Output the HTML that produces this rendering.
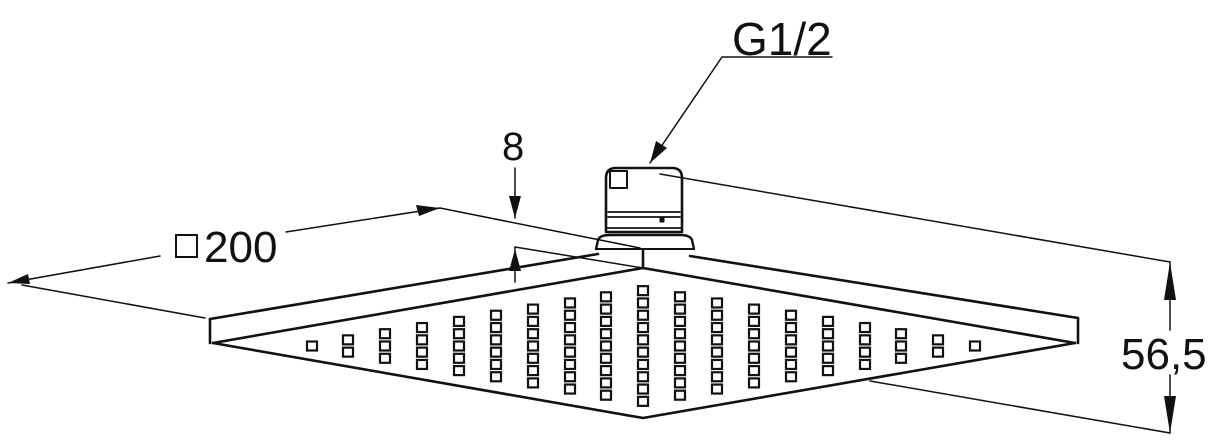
<!DOCTYPE html>
<html><head><meta charset="utf-8"><style>
html,body{margin:0;padding:0;background:#fff;width:1220px;height:444px;overflow:hidden}
svg{display:block}
text{font-family:"Liberation Sans",sans-serif;fill:#111}
</style></head><body>
<svg width="1220" height="444" viewBox="0 0 1220 444" xmlns="http://www.w3.org/2000/svg">
<g stroke="#111" fill="none" stroke-linejoin="round" stroke-linecap="round">
<g stroke-width="2.6">
<polyline points="210,319 598,254"/>
<polyline points="690,256 1078,318"/>
<polyline points="210,319 210,343"/>
<polyline points="1078,318 1078,343"/>
<polyline points="213,343 643,268 1075,343"/>
<polyline points="213,343 643,418 1075,343"/>
<line x1="643" y1="249" x2="643" y2="268"/>
</g>
<path d="M596,249 L598,240 Q600,235 610,235 L680,235 Q690,235 692,240 L694,249" stroke-width="2.4" fill="#fff"/>
<line x1="596" y1="249" x2="694" y2="249" stroke-width="2"/>
<path d="M606,232 L606,178 Q606,168 616,168 L672,168 Q682,168 682,178 L682,232 Z" stroke-width="2.6" fill="#fff"/>
<rect x="610" y="171" width="17" height="17" stroke-width="2"/>
<line x1="608" y1="212" x2="680" y2="212" stroke-width="1.8"/>
<line x1="608" y1="217" x2="680" y2="217" stroke-width="1.8"/>
<line x1="606" y1="228" x2="682" y2="228" stroke-width="1.8"/>
<rect x="660" y="217" width="4" height="5" fill="#111" stroke-width="1"/>
<g stroke-width="1.5">
<line x1="440" y1="208" x2="640" y2="248"/>
<line x1="515" y1="247" x2="643" y2="268"/>
<line x1="8" y1="283" x2="160" y2="256"/>
<line x1="286" y1="232" x2="440" y2="208"/>
<line x1="22" y1="285" x2="205" y2="318"/>
<line x1="515" y1="168" x2="515" y2="218"/>
<line x1="515" y1="247" x2="515" y2="282"/>
<line x1="660" y1="174" x2="1170" y2="262"/>
<line x1="870" y1="381" x2="1170" y2="433"/>
<line x1="1170" y1="262" x2="1170" y2="330"/>
<line x1="1170" y1="375" x2="1170" y2="433"/>
<polyline points="650,163 722,57 832,57"/>
</g>
</g>
<g fill="#111">
<polygon points="8,283 28,274 30,284"/>
<polygon points="440,208 416,205 419,216"/>
<polygon points="515,218 509,196 521,196"/>
<polygon points="515,249 509,271 521,271"/>
<polygon points="650,163 656,141 667,148"/>
<polygon points="1170,262 1164,300 1176,300"/>
<polygon points="1170,433 1164,396 1176,396"/>
</g>
<g id="noz" stroke="#111" stroke-width="2.2" fill="#fff"></g>
<text x="732" y="55" font-size="46">G1/2</text>
<text x="502" y="160" font-size="40">8</text>
<rect x="176" y="235" width="21" height="22" fill="none" stroke="#111" stroke-width="2"/>
<text x="204" y="262" font-size="44">200</text>
<text x="1121" y="369" font-size="44">56,5</text>
</svg>
<script>
var g=document.getElementById('noz');
var cols=[312,348,385,422,459,496,533,570,606,643,680,717,754,791,828,865,901,938,975];
var counts=[1,2,3,4,5,6,7,8,9,10,9,8,7,6,5,4,3,2,1];
var s='';
for(var i=0;i<cols.length;i++){var n=counts[i];var h=12.3;var y0=346-(n-1)*h/2;
for(var j=0;j<n;j++){s+='<rect x="'+(cols[i]-5)+'" y="'+(y0+j*h-4.5)+'" width="10" height="9"/>';}}
g.innerHTML=s;
</script>
</body></html>
